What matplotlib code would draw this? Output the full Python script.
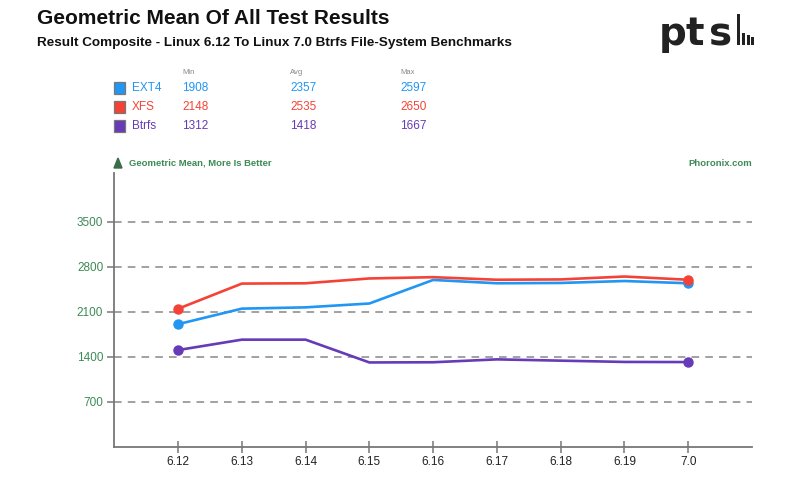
import matplotlib.pyplot as plt
from matplotlib.patches import Rectangle, Polygon

plt.rcParams['font.family'] = ['Liberation Sans', 'DejaVu Sans']

# data
versions = ["6.12", "6.13", "6.14", "6.15", "6.16", "6.17", "6.18", "6.19", "7.0"]
ext4 = [1908, 2150, 2170, 2230, 2597, 2545, 2550, 2580, 2545]
xfs = [2148, 2540, 2545, 2620, 2640, 2600, 2605, 2650, 2600]
btrfs = [1505, 1667, 1667, 1312, 1315, 1360, 1340, 1320, 1318]
series_names = ["EXT4", "XFS", "Btrfs"]
series_colors = ["#2196f3", "#f44336", "#673ab7"]
summary = {"EXT4": [1908, 2357, 2597], "XFS": [2148, 2535, 2650], "Btrfs": [1312, 1418, 1667]}
yticks = [700, 1400, 2100, 2800, 3500]

W, H = 799, 490
fig = plt.figure(figsize=(W / 100, H / 100), dpi=100)

def fx(px):
    return px / W

def fy(py):
    return 1 - py / H

# header
fig.text(fx(37), fy(19), "Geometric Mean Of All Test Results", fontsize=15,
         fontweight='bold', color='#111111', va='center', ha='left')
fig.text(fx(37), fy(43), "Result Composite - Linux 6.12 To Linux 7.0 Btrfs File-System Benchmarks",
         fontsize=9.7, fontweight='bold', color='#111111', va='center', ha='left')

# logo (rough)
for ch, px in zip("pts", [659, 686, 709]):
    fig.text(fx(px), fy(45), ch, fontsize=28, color='#222222', va='baseline', ha='left',
             family='DejaVu Sans', fontweight='bold')
for x0, top in [(737, 14), (742, 33), (746.5, 35), (751, 37)]:
    fig.patches.append(Rectangle((fx(x0), fy(45)), fx(3), fy(top) - fy(45),
                                 transform=fig.transFigure, color='#222222', linewidth=0))

# legend table
for hdr, px in zip(["Min", "Avg", "Max"], [182, 290, 400]):
    fig.text(fx(px), fy(72), hdr, fontsize=5.5, color='#888888', va='center', ha='left')
for i, (name, col) in enumerate(zip(series_names, series_colors)):
    py = 88 + i * 19
    fig.patches.append(Rectangle((fx(114), fy(py + 6)), fx(11), fy(py - 6) - fy(py + 6),
                                 transform=fig.transFigure, facecolor=col,
                                 edgecolor='#777777', linewidth=0.9))
    fig.text(fx(132), fy(py), name, fontsize=8.5, color=col, va='center', ha='left')
    for s, px in zip(summary[name], [182, 290, 400]):
        fig.text(fx(px), fy(py), str(s), fontsize=8.5, color=col, va='center', ha='left')

green = '#3d8a55'
fig.patches.append(Polygon([(fx(114), fy(168)), (fx(122), fy(168)), (fx(118), fy(158))],
                           closed=True, transform=fig.transFigure, color='#3a6e4a'))
fig.text(fx(129), fy(163), "Geometric Mean, More Is Better", fontsize=6.8,
         fontweight='bold', color=green, va='center', ha='left')
fig.text(fx(752), fy(163), "Phoronix.com", fontsize=6.8, fontweight='bold',
         color=green, va='center', ha='right')

# plot area
ax = fig.add_axes([fx(114.3), fy(446.7), fx(752) - fx(114.3), fy(172.7) - fy(446.7)])
xs = list(range(len(versions)))
for vals, col in zip([ext4, xfs, btrfs], series_colors):
    ax.plot(xs, vals, color=col, linewidth=1.9, marker='o', markersize=6.5,
            markevery=[0, len(vals) - 1], solid_joinstyle='round')

ax.set_xlim(-1, 9)
ax.set_ylim(0, 4267)
ax.set_xticks(xs)
ax.set_xticklabels(versions)
ax.set_yticks(yticks)
ax.grid(axis='y', color='#888888', linestyle=(0, (5, 4)), linewidth=1.1)
ax.set_axisbelow(True)
for s in ['top', 'right']:
    ax.spines[s].set_visible(False)
for s in ['left', 'bottom']:
    ax.spines[s].set_color('#777777')
    ax.spines[s].set_linewidth(1.3)
ax.tick_params(axis='x', direction='inout', length=8, width=1.1, color='#777777',
               labelsize=8.5, labelcolor='#222222', pad=3)
ax.tick_params(axis='y', direction='out', length=5, width=1.1, color='#777777',
               labelsize=8.5, labelcolor=green, pad=3)

fig.savefig("out.png", dpi=100)
